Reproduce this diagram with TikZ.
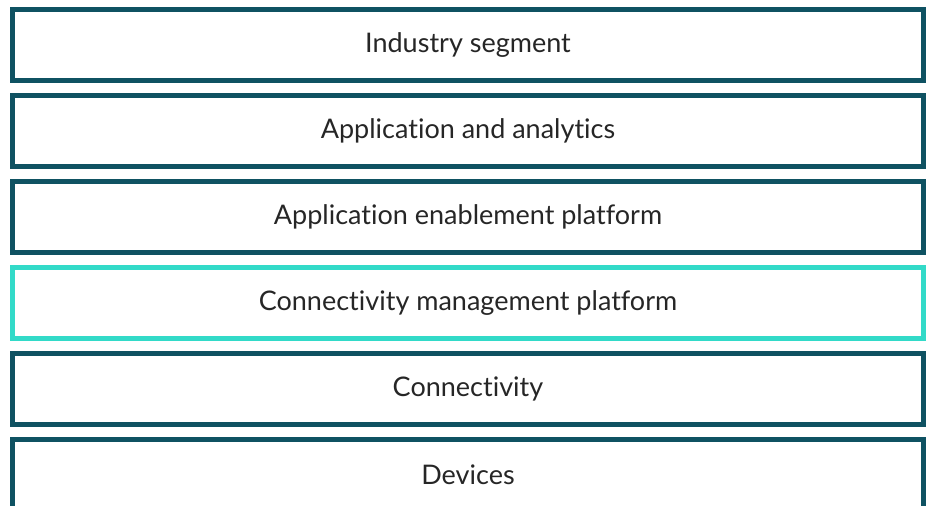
\documentclass[tikz,border=0pt]{standalone}
\usepackage{fontspec}
\setmainfont[Ligatures=NoCommon]{Lato}
\usepackage{xcolor}
\definecolor{colorLayer}{RGB}{15,82,98}
\definecolor{colorFocus}{RGB}{50,218,200}
\usepackage{tikz}
\usetikzlibrary{positioning}

\begin{document}
\begin{tikzpicture}[x=1pt, y=-1pt, node distance=15pt,
  layer/.style={draw=colorLayer, line width=5pt, minimum width=911pt, minimum height=71pt,
    inner sep=0pt, outer sep=0pt, font=\fontsize{27}{31}\selectfont, text=black!85},
  focus/.style={layer, draw=colorFocus}]
\useasboundingbox (0,0) rectangle (928,507);
\clip (0,0) rectangle (928,505);
\node[layer] (industry) at (468,45) {Industry segment};
\node[layer, below=of industry] (apps) {Application and analytics};
\node[layer, below=of apps] (aep) {Application enablement platform};
\node[focus, below=of aep] (cmp) {Connectivity management platform};
\node[layer, below=of cmp] (conn) {Connectivity};
\node[layer, below=of conn] (devices) {Devices};
\end{tikzpicture}
\end{document}
